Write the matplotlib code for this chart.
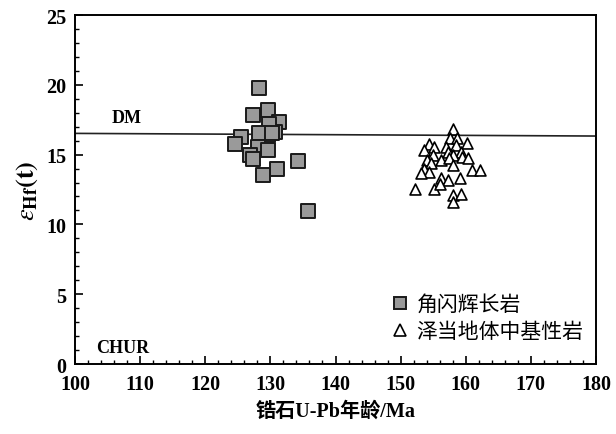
import matplotlib
matplotlib.use('Agg')
import matplotlib.pyplot as plt
from matplotlib.ticker import MultipleLocator
from matplotlib.lines import Line2D

plt.rcParams['mathtext.fontset'] = 'stix'

# ── Data ─────────────────────────────────────────────────────────────────────
gabbro_age = [128.2, 127.3, 129.6, 131.3, 129.6, 130.7, 129.8, 128.3, 130.3,
              125.5, 124.6, 128.1, 129.7, 126.8, 127.3, 134.2, 131.0, 128.8, 135.7]
gabbro_eps = [19.76, 17.84, 18.2, 17.36, 16.4, 16.6, 17.17, 16.57, 16.52,
              16.29, 15.73, 15.52, 15.32, 14.96, 14.68, 14.53, 14.0, 13.53, 10.94]

zedang_age = [158.1, 157.6, 158.6, 160.2, 154.4, 155.2, 156.9, 158.5, 153.6,
              157.2, 159.2, 154.9, 158.0, 159.5, 154.1, 156.2, 157.4, 160.4,
              154.6, 158.0, 153.6, 161.0, 162.2, 154.4, 153.1, 156.2, 157.2,
              159.1, 152.2, 155.1, 156.0, 158.0, 159.2, 158.1]
zedang_eps = [16.81, 16.16, 16.16, 15.80, 15.73, 15.57, 15.57, 15.68, 15.32,
              15.21, 15.21, 14.96, 14.96, 14.85, 14.6, 14.6, 14.73, 14.73,
              14.37, 14.25, 13.94, 13.89, 13.89, 13.77, 13.65, 13.34, 13.17,
              13.29, 12.57, 12.57, 12.93, 12.09, 12.16, 11.62]

dm_age = [100, 180]
dm_eps = [16.52, 16.33]

legend_labels = ['角闪辉长岩', '泽当地体中基性岩']

SERIF = ['Liberation Serif', 'DejaVu Serif']
MIXED = ['Liberation Serif', 'Noto Sans CJK SC']

# ── Figure ───────────────────────────────────────────────────────────────────
fig = plt.figure(figsize=(6.16, 4.35), dpi=100)
ax = fig.add_axes([0.1218, 0.1609, 0.8457, 0.8023])

ax.plot(dm_age, dm_eps, color='#222222', lw=1.2, zorder=1)

ax.scatter(gabbro_age, gabbro_eps, marker='s', s=105, facecolor='#9a9a9a',
           edgecolor='#1a1a1a', linewidth=1.4, zorder=3)
ax.scatter(zedang_age, zedang_eps, marker='^', s=62, facecolor='white',
           edgecolor='black', linewidth=1.2, zorder=3)

ax.text(105.6, 17.35, 'DM', fontsize=13, family=SERIF, fontweight='bold')
ax.text(103.2, 0.85, 'CHUR', fontsize=13, family=SERIF, fontweight='bold')

ax.set_xlim(100, 180)
ax.set_ylim(0, 25)
ax.xaxis.set_major_locator(MultipleLocator(10))
ax.xaxis.set_minor_locator(MultipleLocator(2))
ax.yaxis.set_major_locator(MultipleLocator(5))
ax.yaxis.set_minor_locator(MultipleLocator(1))
ax.tick_params(which='both', direction='in', top=False, right=False)
ax.tick_params(which='major', length=6, width=1.2, labelsize=14.5)
ax.tick_params(axis='x', which='major', pad=7)
ax.tick_params(axis='y', which='major', pad=6)
ax.tick_params(which='minor', length=3, width=1.0)
for lab in ax.get_xticklabels() + ax.get_yticklabels():
    lab.set_family(SERIF)
    lab.set_fontweight('bold')
for sp in ax.spines.values():
    sp.set_linewidth(1.4)

ax.set_xlabel('锆石U-Pb年龄/Ma', family=MIXED, fontsize=14.5, fontweight='bold',
              labelpad=5)
ax.set_ylabel(r'$\varepsilon_{\mathbf{Hf}}\mathbf{(t)}$', fontsize=19, labelpad=5)

handles = [
    Line2D([], [], ls='none', marker='s', ms=9, mfc='#9a9a9a', mec='#1a1a1a', mew=1.4),
    Line2D([], [], ls='none', marker='^', ms=8, mfc='white', mec='black', mew=1.2),
]
ax.legend(handles, legend_labels, loc='lower right', bbox_to_anchor=(1.012, 0.008),
          frameon=False, prop={'family': 'Noto Sans CJK SC', 'size': 15},
          handletextpad=0.3, labelspacing=0.25, handlelength=1.0)

fig.savefig('out.png', dpi=100, facecolor='white')
